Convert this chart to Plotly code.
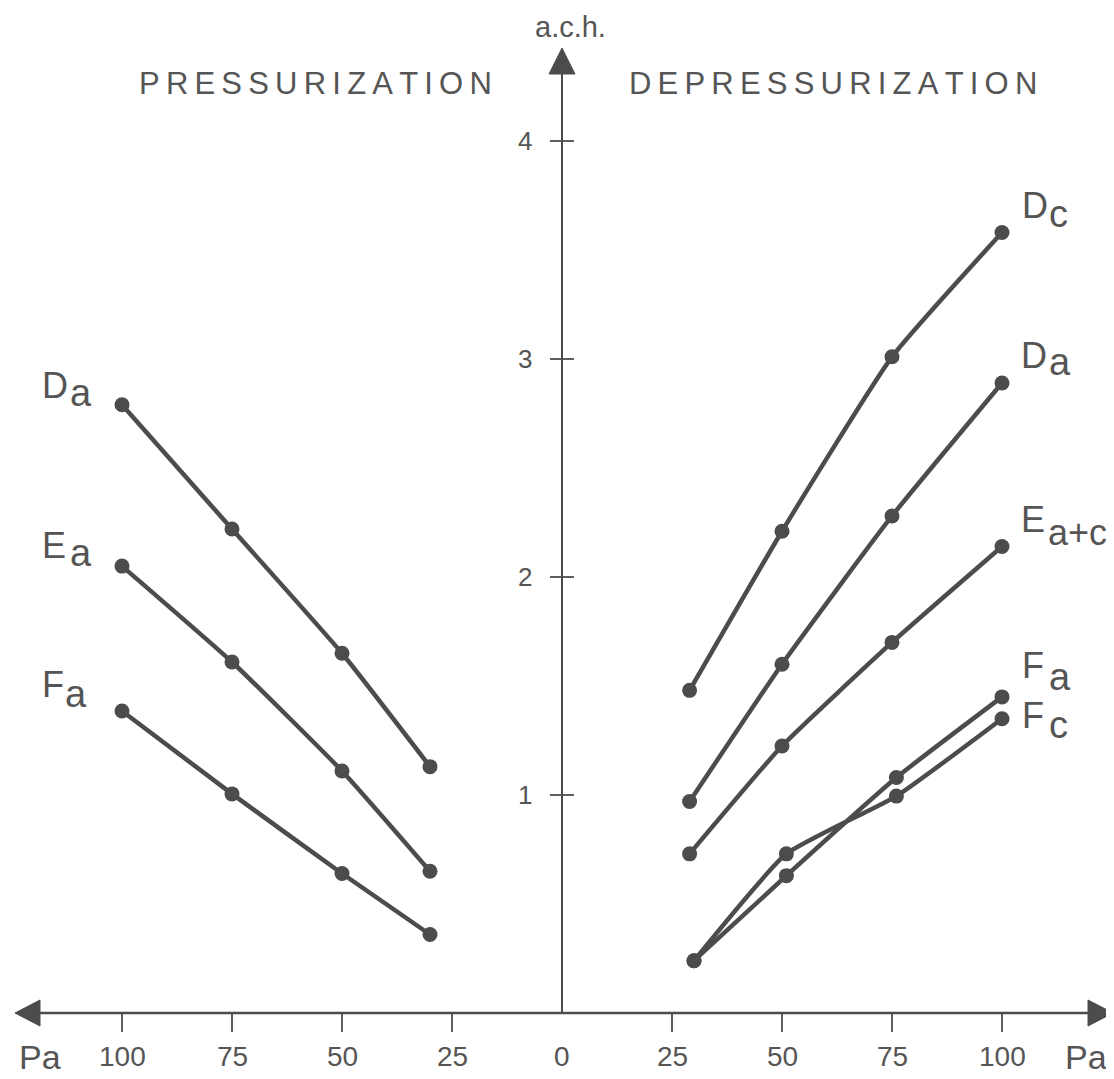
import plotly.graph_objects as go

# ---- data ----
press_x = [100, 75, 50, 30]            # Pa (pressurization, drawn to the left)
press_Da = [2.79, 2.22, 1.65, 1.13]
press_Ea = [2.05, 1.61, 1.11, 0.65]
press_Fa = [1.385, 1.005, 0.64, 0.36]

dep_x = [29, 50, 75, 100]               # Pa (depressurization)
dep_Dc = [1.48, 2.21, 3.01, 3.58]
dep_Da = [0.97, 1.60, 2.28, 2.89]
dep_Eac = [0.73, 1.225, 1.70, 2.14]
dep_x_F = [30, 51, 76, 100]
dep_Fa = [0.24, 0.63, 1.08, 1.45]
dep_Fc = [0.24, 0.73, 0.995, 1.35]

x_tick_vals = [-100, -75, -50, -25, 0, 25, 50, 75, 100]
x_tick_text = ["100", "75", "50", "25", "0", "25", "50", "75", "100"]
y_tick_vals = [1, 2, 3, 4]
y_tick_text = ["1", "2", "3", "4"]

INK = "#4b4d4b"
TXT = "#555555"
FONT = "Liberation Sans, Arial, sans-serif"

# page layout (browser body has an 8px margin)
PAGE_W, PAGE_H = 1114, 1079
BODY = 8
W, H = PAGE_W - BODY, PAGE_H - BODY
PX_PER_X = 4.4
PX_PER_Y = 218.0
X0_PX, Y0_PX = 562, 1013   # page pixel of data origin
dx = 1 / PX_PER_X
dy = 1 / PX_PER_Y
xr = [(BODY - X0_PX) * dx, (PAGE_W - X0_PX) * dx]
yr = [(Y0_PX - PAGE_H) * dy, (Y0_PX - BODY) * dy]


def X(p):
    return (p - X0_PX) * dx


def Y(p):
    return (Y0_PX - p) * dy


fig = go.Figure()


def add_series(xs, ys, sign):
    fig.add_trace(go.Scatter(
        x=[sign * v for v in xs], y=ys, mode="lines+markers",
        line=dict(color=INK, width=4.5, shape="spline", smoothing=0.45),
        marker=dict(color=INK, size=15),
        showlegend=False, hoverinfo="skip"))


add_series(press_x, press_Da, -1)
add_series(press_x, press_Ea, -1)
add_series(press_x, press_Fa, -1)
add_series(dep_x, dep_Dc, 1)
add_series(dep_x, dep_Da, 1)
add_series(dep_x, dep_Eac, 1)
add_series(dep_x_F, dep_Fa, 1)
add_series(dep_x_F, dep_Fc, 1)

shapes = []
# x axis line
shapes.append(dict(type="line", x0=X(36), x1=X(1092), y0=0, y1=0,
                   line=dict(color=INK, width=2.5)))
# y axis line
shapes.append(dict(type="line", x0=0, x1=0, y0=0, y1=Y(72), line=dict(color=INK, width=2)))
# arrowheads
hy = 13 * dy
shapes.append(dict(type="path", path=f"M {X(15)} 0 L {X(40)} {hy} L {X(40)} {-hy} Z",
                   fillcolor=INK, line=dict(color=INK, width=1)))
shapes.append(dict(type="path", path=f"M {X(1113)} 0 L {X(1088)} {hy} L {X(1088)} {-hy} Z",
                   fillcolor=INK, line=dict(color=INK, width=1)))
hx = 13 * dx
shapes.append(dict(type="path", path=f"M 0 {Y(48)} L {hx} {Y(74)} L {-hx} {Y(74)} Z",
                   fillcolor=INK, line=dict(color=INK, width=1)))
# x ticks (below axis)
for v in x_tick_vals:
    if v == 0:
        continue
    shapes.append(dict(type="line", x0=v, x1=v, y0=0, y1=-19 * dy, line=dict(color=INK, width=1.8)))
# y ticks (crossing axis)
for v in y_tick_vals:
    shapes.append(dict(type="line", x0=-12 * dx, x1=12 * dx, y0=v, y1=v, line=dict(color=INK, width=1.8)))

annotations = []


def txt(x, y, t, size, xanchor="center"):
    annotations.append(dict(x=x, y=y, text=t, showarrow=False,
                            font=dict(size=size, color=TXT, family=FONT),
                            xanchor=xanchor, yanchor="middle"))


for v, t in zip(x_tick_vals, x_tick_text):
    txt(v, Y(1066 - 0.3465 * 28), t, 28)
for v, t in zip(y_tick_vals, y_tick_text):
    txt(X(525), v, t, 26)
# axis unit labels
txt(X(40), Y(1069 - 0.3465 * 34), "Pa", 34)
txt(X(1086), Y(1069 - 0.3465 * 34), "Pa", 34)
txt(X(570), Y(37 - 0.3465 * 29), "a.c.h.", 29)
# section titles (letter-spaced with thin spaces)
txt(X(315), Y(94 - 0.3465 * 31), "\u2009".join("PRESSURIZATION"), 31)
txt(X(833), Y(94 - 0.3465 * 31), "\u2009".join("DEPRESSURIZATION"), 31)

# series labels: (main, sub, main_left, main_baseline, main_size, sub_left, sub_baseline, sub_size)
labels = [
    ("D", "a", 40, 398, 36, 68, 406, 38),
    ("E", "a", 40, 558, 36, 68, 566, 38),
    ("F", "a", 40, 697, 36, 63, 707, 38),
    ("D", "c", 1020, 218, 36, 1047, 227, 38),
    ("D", "a", 1019, 368, 36, 1047, 375, 38),
    ("E", "a+c", 1019, 532, 36, 1046, 545, 36),
    ("F", "a", 1020, 678, 36, 1047, 690, 38),
    ("F", "c", 1020, 728, 36, 1047, 738, 38),
]
for m, s, mx, mb, ms, sx, sb, ss in labels:
    txt(X(mx), Y(mb - 0.3465 * ms), m, ms, xanchor="left")
    txt(X(sx), Y(sb - 0.3465 * ss), s, ss, xanchor="left")

fig.update_layout(
    width=W, height=H,
    margin=dict(l=0, r=0, t=0, b=0),
    paper_bgcolor="white", plot_bgcolor="white",
    xaxis=dict(range=xr, visible=False, fixedrange=True),
    yaxis=dict(range=yr, visible=False, fixedrange=True),
    shapes=shapes, annotations=annotations,
    showlegend=False,
)

fig.write_html("out.html")
